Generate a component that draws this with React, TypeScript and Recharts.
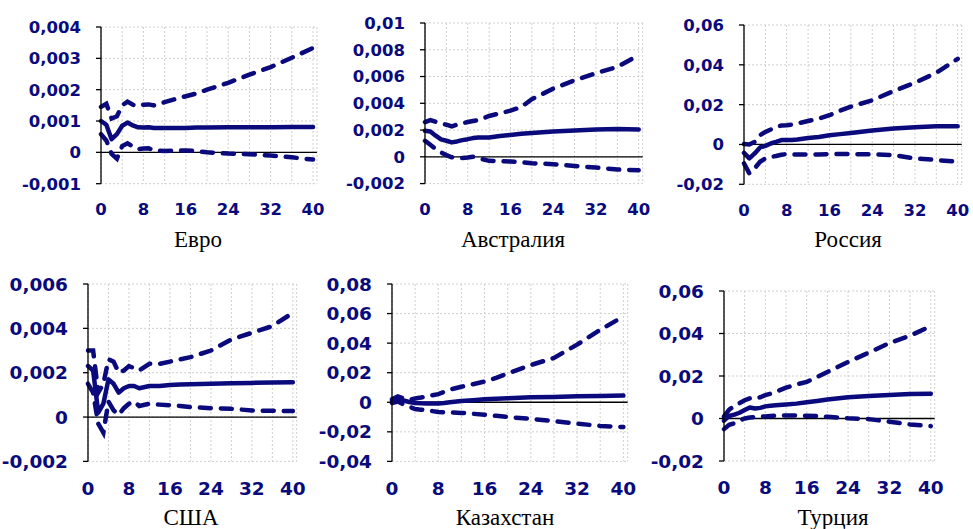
import React from "react";
import { CartesianGrid, Line, LineChart, ReferenceLine, XAxis, YAxis } from "recharts";

const PERIODS = [0, 1, 2, 3, 4, 5, 6, 7, 8, 9, 10, 12, 14, 16, 18, 20, 24, 28, 32, 36, 40];
const X_TICKS = [0, 4, 8, 12, 16, 20, 24, 28, 32, 36, 40];

// Евро
const EUR_UP = [0.00145, 0.00155, 0.00108, 0.00115, 0.0015, 0.00162, 0.00152, 0.00148, 0.00152, 0.00153, 0.0015, 0.0016, 0.0017, 0.00179, 0.00188, 0.002, 0.00222, 0.00248, 0.00272, 0.00302, 0.00333];
const EUR_IRF = [0.001, 0.00088, 0.00042, 0.00058, 0.00085, 0.00095, 0.00086, 0.0008, 0.00079, 0.0008, 0.00078, 0.00078, 0.00078, 0.00078, 0.00079, 0.00079, 0.0008, 0.0008, 0.0008, 0.00081, 0.00081];
const EUR_LO = [0.00058, 0.00038, -0.00005, -0.0002, 0.0002, 0.00029, 0.00018, 0.0001, 0.00012, 0.00013, 0.00006, 0.00004, 0.00006, 0.00006, 0.00004, 0, -0.00004, -0.00006, -0.0001, -0.00016, -0.00023];
const EUR_TICKS = [-0.001, 0, 0.001, 0.002, 0.003, 0.004];

// Австралия
const AUD_UP = [0.0026, 0.00275, 0.00262, 0.0025, 0.0024, 0.00228, 0.0024, 0.0025, 0.0026, 0.00268, 0.00275, 0.00305, 0.00325, 0.00345, 0.00372, 0.0043, 0.0051, 0.00572, 0.00625, 0.00672, 0.0076];
const AUD_IRF = [0.00195, 0.0019, 0.00158, 0.0013, 0.0012, 0.00108, 0.00115, 0.00125, 0.00132, 0.0014, 0.00145, 0.00145, 0.00155, 0.00163, 0.00172, 0.00178, 0.0019, 0.00196, 0.00205, 0.00208, 0.00205];
const AUD_LO = [0.0012, 0.0009, 0.00058, 0.00033, 0.00013, -0.00003, -0.00008, -0.00008, -0.00005, 0, -0.0001, -0.0003, -0.00033, -0.00035, -0.0004, -0.00048, -0.00055, -0.00068, -0.0008, -0.00095, -0.001];
const AUD_TICKS = [-0.002, 0, 0.002, 0.004, 0.006, 0.008, 0.01];

// Россия
const RUS_UP = [0.0002, 0, 0.0013, 0.0047, 0.0063, 0.0075, 0.0088, 0.0095, 0.0097, 0.01, 0.0105, 0.0118, 0.013, 0.0147, 0.017, 0.019, 0.0222, 0.0268, 0.031, 0.036, 0.043];
const RUS_IRF = [-0.0042, -0.007, -0.0045, -0.0015, -0.0007, 0.0005, 0.0013, 0.0022, 0.0022, 0.0023, 0.0025, 0.0032, 0.0038, 0.0046, 0.0052, 0.0058, 0.007, 0.008, 0.0086, 0.0091, 0.0092];
const RUS_LO = [-0.0095, -0.0145, -0.012, -0.0087, -0.007, -0.0062, -0.0058, -0.0052, -0.0048, -0.005, -0.005, -0.005, -0.005, -0.0048, -0.0048, -0.0048, -0.005, -0.0053, -0.007, -0.0078, -0.0087];
const RUS_TICKS = [-0.02, 0, 0.02, 0.04, 0.06];

// США
const USA_UP = [0.003, 0.003, 0.0011, 0.0015, 0.0026, 0.0025, 0.002, 0.0021, 0.0023, 0.0022, 0.0021, 0.0024, 0.0024, 0.0025, 0.0026, 0.0027, 0.003, 0.0035, 0.0038, 0.0041, 0.0047];
const USA_IRF = [0.0023, 0.0021, 0.0002, 0.0006, 0.0017, 0.0015, 0.0011, 0.0013, 0.0014, 0.0014, 0.0013, 0.0014, 0.0014, 0.00145, 0.00147, 0.00148, 0.0015, 0.00152, 0.00154, 0.00156, 0.00157];
const USA_LO = [0.0015, 0.0011, -0.0003, -0.0007, 0.0007, 0.0003, 0.0001, 0.0004, 0.0006, 0.0007, 0.0005, 0.0006, 0.00056, 0.00053, 0.0005, 0.00045, 0.0004, 0.00037, 0.0003, 0.00028, 0.00027];
const USA_TICKS = [-0.002, 0, 0.002, 0.004, 0.006];

// Казахстан
const KAZ_UP = [0.002, 0.004, 0.0025, 0.0018, 0.0025, 0.0032, 0.004, 0.0048, 0.0055, 0.007, 0.0085, 0.0105, 0.0122, 0.014, 0.0165, 0.0195, 0.0252, 0.03, 0.039, 0.049, 0.058];
const KAZ_IRF = [0.0008, 0.0025, 0.0012, 0.0002, -0.0005, -0.0007, -0.0008, -0.0008, -0.0008, -0.0005, 0, 0.0008, 0.0014, 0.002, 0.0024, 0.0027, 0.0034, 0.0036, 0.004, 0.0043, 0.0045];
const KAZ_LO = [-0.0005, 0.0005, -0.0015, -0.003, -0.0046, -0.005, -0.0054, -0.006, -0.0066, -0.0068, -0.0069, -0.0072, -0.0078, -0.0085, -0.0092, -0.01, -0.0112, -0.0128, -0.0145, -0.016, -0.0168];
const KAZ_TICKS = [-0.04, -0.02, 0, 0.02, 0.04, 0.06, 0.08];

// Турция
const TUR_UP = [0.001, 0.0042, 0.0058, 0.0072, 0.0086, 0.0095, 0.0094, 0.01, 0.011, 0.0117, 0.0125, 0.0145, 0.016, 0.0172, 0.0195, 0.0219, 0.0266, 0.031, 0.0355, 0.039, 0.0435];
const TUR_IRF = [-0.001, 0.0012, 0.0018, 0.0027, 0.004, 0.0052, 0.0047, 0.005, 0.0057, 0.006, 0.0062, 0.0066, 0.007, 0.0076, 0.0082, 0.0089, 0.01, 0.0106, 0.0111, 0.0115, 0.0117];
const TUR_LO = [-0.005, -0.003, -0.0022, -0.001, 0, 0.0005, 0.0006, 0.0008, 0.001, 0.0012, 0.0013, 0.0014, 0.0014, 0.0013, 0.0011, 0.0008, 0.0001, -0.0003, -0.0015, -0.0028, -0.0036];
const TUR_TICKS = [-0.02, 0, 0.02, 0.04, 0.06];

const NAVY = "#0a0a7c";
const Y_AXIS_W = 88;
const X_AXIS_H = 44;
const M_TOP = 18;
const M_RIGHT = 18;

// plot box in page pixels: left = y axis, top/bottom = first/last y tick, right = end of grid
const PANELS = [
  { title: "Евро", up: EUR_UP, irf: EUR_IRF, lo: EUR_LO, ticks: EUR_TICKS, box: [101, 27.3, 317, 184], titleAt: [198, 240], fs: 16.5 },
  { title: "Австралия", up: AUD_UP, irf: AUD_IRF, lo: AUD_LO, ticks: AUD_TICKS, box: [425.3, 22.7, 643, 183.3], titleAt: [513, 240], fs: 16.5 },
  { title: "Россия", up: RUS_UP, irf: RUS_IRF, lo: RUS_LO, ticks: RUS_TICKS, box: [744.3, 24.7, 962, 184], titleAt: [848, 240], fs: 16.5 },
  { title: "США", up: USA_UP, irf: USA_IRF, lo: USA_LO, ticks: USA_TICKS, box: [88.3, 284.3, 297, 461.7], titleAt: [191, 518], fs: 18.5 },
  { title: "Казахстан", up: KAZ_UP, irf: KAZ_IRF, lo: KAZ_LO, ticks: KAZ_TICKS, box: [392.3, 284.3, 628, 461.7], titleAt: [505, 518], fs: 18.5 },
  { title: "Турция", up: TUR_UP, irf: TUR_IRF, lo: TUR_LO, ticks: TUR_TICKS, box: [724.3, 290.7, 935, 460.7], titleAt: [833, 518], fs: 18.5 },
];

const fmtY = (v: number) => (Math.abs(v) < 1e-12 ? "0" : String(+v.toFixed(4)).replace(".", ","));
const fmtX = (v: number) => (v % 8 === 0 ? String(v) : "");

function Panel({ p }: { p: (typeof PANELS)[number] }) {
  const [left, top, right, bottom] = p.box;
  const data = PERIODS.map((t, i) => ({ t, up: p.up[i], irf: p.irf[i], lo: p.lo[i] }));
  const width = Y_AXIS_W + (right - left) + M_RIGHT;
  const height = M_TOP + (bottom - top) + X_AXIS_H;
  const tickStyle = { fill: NAVY, fontFamily: "DejaVu Sans", fontWeight: 700, fontSize: p.fs };
  const lo = p.ticks[0];
  const hi = p.ticks[p.ticks.length - 1];
  return (
    <>
      <div style={{ position: "absolute", left: left - Y_AXIS_W, top: top - M_TOP }}>
        <LineChart width={width} height={height} data={data} margin={{ top: M_TOP, right: M_RIGHT, bottom: 0, left: 0 }}>
          <CartesianGrid stroke="#cfcfcf" strokeDasharray="2 2" />
          <XAxis
            dataKey="t"
            type="number"
            domain={[0, 40.75]}
            ticks={X_TICKS}
            interval={0}
            tickFormatter={fmtX}
            axisLine={false}
            tickLine={false}
            tickSize={0}
            tickMargin={20}
            height={X_AXIS_H}
            tick={tickStyle}
          />
          <YAxis
            type="number"
            domain={[lo, hi]}
            ticks={p.ticks}
            interval={0}
            tickFormatter={fmtY}
            width={Y_AXIS_W}
            axisLine={{ stroke: "#000", strokeWidth: 1.3 }}
            tickLine={{ stroke: "#000", strokeWidth: 1.3 }}
            tickSize={5}
            tickMargin={15}
            tick={tickStyle}
          />
          <ReferenceLine y={0} stroke="#000" strokeWidth={1.3} />
          <Line dataKey="up" type="linear" stroke={NAVY} strokeWidth={4.5} strokeDasharray="11 10" strokeLinecap="round" dot={false} isAnimationActive={false} />
          <Line dataKey="lo" type="linear" stroke={NAVY} strokeWidth={4.5} strokeDasharray="11 10" strokeLinecap="round" dot={false} isAnimationActive={false} />
          <Line dataKey="irf" type="linear" stroke={NAVY} strokeWidth={4.5} strokeLinejoin="round" strokeLinecap="round" dot={false} isAnimationActive={false} />
        </LineChart>
      </div>
      <div
        style={{
          position: "absolute",
          left: p.titleAt[0] - 100,
          top: p.titleAt[1] - 14,
          width: 200,
          textAlign: "center",
          fontFamily: "Liberation Serif",
          fontSize: 23,
          lineHeight: "28px",
          color: "#000",
        }}
      >
        {p.title}
      </div>
    </>
  );
}

export default function App() {
  return (
    <div style={{ position: "absolute", left: 0, top: 0, width: 973, height: 529, background: "#fff", overflow: "hidden" }}>
      {PANELS.map((p) => (
        <Panel key={p.title} p={p} />
      ))}
    </div>
  );
}
